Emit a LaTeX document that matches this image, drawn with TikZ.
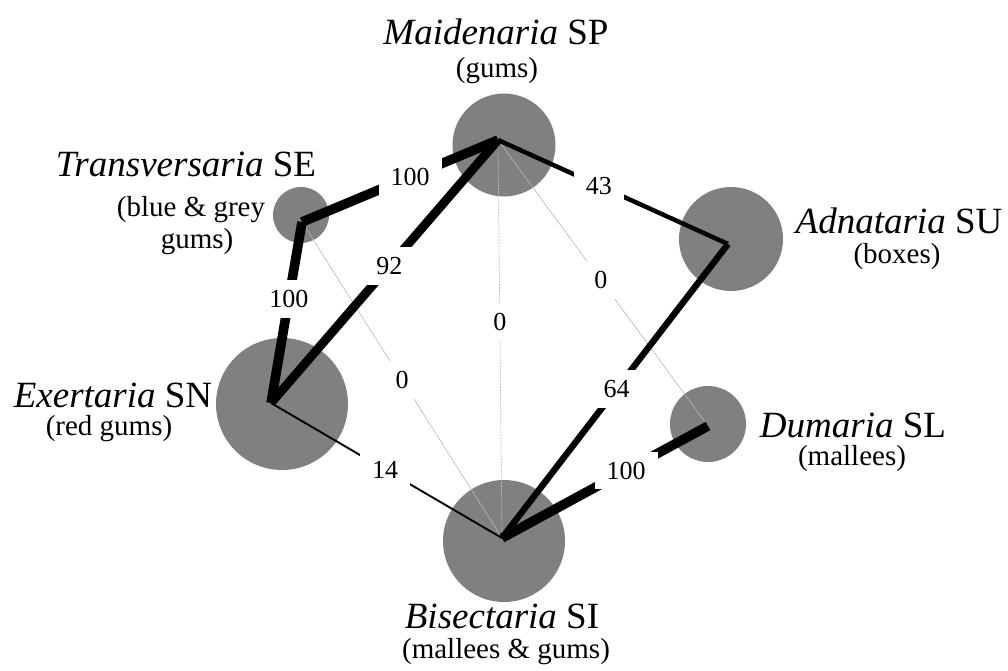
\documentclass[tikz,border=0pt]{standalone}
\usepackage{fontspec}
\setmainfont{Liberation Serif}
\begin{document}
\begin{tikzpicture}[x=1pt,y=-1pt,
  blob/.style={circle, fill=gray, draw=none, inner sep=0pt, minimum size=#1},
  ttl/.style={anchor=base, inner sep=0pt, font=\fontsize{37}{40}\selectfont},
  sub/.style={anchor=base, inner sep=0pt, font=\fontsize{29}{32}\selectfont},
  lab/.style={fill=white, inner xsep=12pt, inner ysep=10pt, font=\fontsize{26}{28}\selectfont},
  link/.style={line width=#1, draw=black},
  zero/.style={line width=0.6pt, draw=black!28},
]
\useasboundingbox (0,0) rectangle (1008,671);

% circles
\node[blob=103pt] (cSP) at (504,145) {};
\node[blob=56pt]  (cSE) at (301,215) {};
\node[blob=104pt] (cSU) at (731,239) {};
\node[blob=132pt] (cSN) at (282,404) {};
\node[blob=122pt] (cSI) at (504,541) {};
\node[blob=76pt]  (cSL) at (708,424) {};

% end points
\coordinate (pSP) at (498,140);
\coordinate (pSE) at (302,222);
\coordinate (pSU) at (728,244);
\coordinate (pSN) at (271,403);
\coordinate (pSI) at (502,538);
\coordinate (pSL) at (708,426);

% zero links
\draw[zero, dash pattern=on 2pt off 1pt] (pSP) -- (pSI);
\draw[zero] (pSP) -- (pSL);
\draw[zero] (pSE) -- (pSI);

% weighted links
\draw[link=1.9pt] (pSN) -- (pSI);
\draw[link=4.5pt] (pSP) -- (pSU);
\draw[link=6.4pt] (pSU) -- (pSI);
\draw[link=8.9pt] (pSP) -- (pSN);
\draw[link=9.6pt] (pSP) -- (pSE);
\draw[link=9.6pt] (pSE) -- (pSN);
\draw[link=9.6pt] (pSI) -- (pSL);

% labels
\path (pSP) -- node[lab,pos=0.449] (l1) {100} (pSE);
\path (pSP) -- node[lab,pos=0.479] (l2) {92} (pSN);
\path (pSE) -- node[lab,pos=0.425] (l3) {100} (pSN);
\path (pSP) -- node[lab,pos=0.439] (l4) {43} (pSU);
\path (pSP) -- node[lab,pos=0.49] (l5) {0} (pSL);
\path (pSP) -- node[lab,pos=0.457] (l6) {0} (pSI);
\path (pSE) -- node[lab,pos=0.5] (l7) {0} (pSI);
\path (pSN) -- node[lab,pos=0.494] (l8) {14} (pSI);
\path (pSU) -- node[lab,pos=0.493] (l9) {64} (pSI);
\path (pSI) -- node[lab,pos=0.602] (l10) {100} (pSL);

% titles
\node[ttl] (tSP) at (496,45) {\textit{Maidenaria} SP};
\node[sub] (sSP) at (497,78) {(gums)};
\node[ttl] (tSE) at (186,177) {\textit{Transversaria} SE};
\node[sub] (sSE1) at (191,216) {(blue \& grey};
\node[sub] (sSE2) at (197,248) {gums)};
\node[ttl] (tSN) at (113,407) {\textit{Exertaria} SN};
\node[sub] (sSN) at (109,435) {(red gums)};
\node[ttl] (tSU) at (899,233) {\textit{Adnataria} SU};
\node[sub] (sSU) at (897,263) {(boxes)};
\node[ttl] (tSL) at (853,437) {\textit{Dumaria} SL};
\node[sub] (sSL) at (852,465) {(mallees)};
\node[ttl] (tSI) at (502,628) {\textit{Bisectaria} SI};
\node[sub] (sSI) at (506,658) {(mallees \& gums)};
\end{tikzpicture}
\end{document}
